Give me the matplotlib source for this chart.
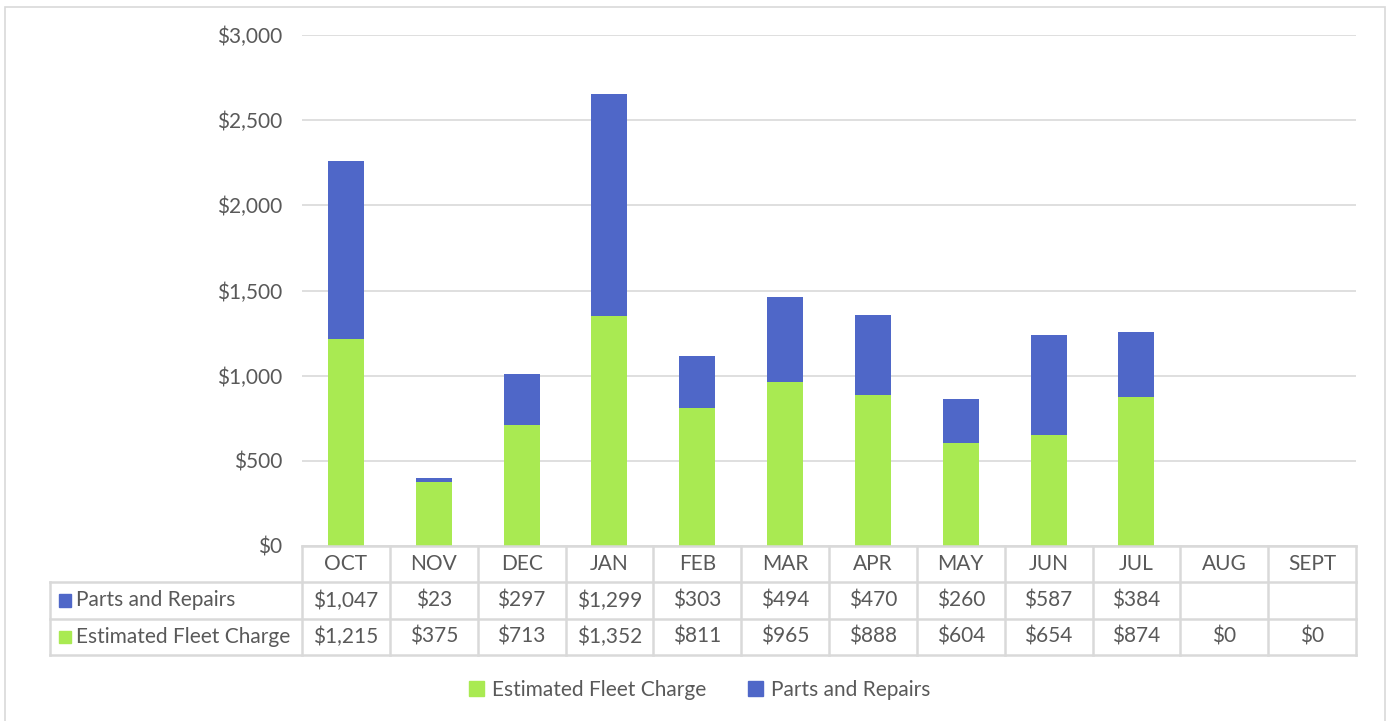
import matplotlib.pyplot as plt
import matplotlib.patches as mpatches
from matplotlib.ticker import FuncFormatter

months = ['OCT', 'NOV', 'DEC', 'JAN', 'FEB', 'MAR', 'APR', 'MAY', 'JUN', 'JUL', 'AUG', 'SEPT']
fleet_charge = [1215, 375, 713, 1352, 811, 965, 888, 604, 654, 874, 0, 0]
parts_repairs = [1047, 23, 297, 1299, 303, 494, 470, 260, 587, 384, None, None]

green = '#a9ea52'
blue = '#4f67c8'
grey_text = '#595959'
line_col = '#d9d9d9'

plt.rcParams['font.family'] = ['Lato', 'DejaVu Sans']

W, H = 1391, 721
fig = plt.figure(figsize=(W / 100, H / 100), dpi=100)

def px(x0, y0, x1, y1):
    # pixel box (top-left origin) -> figure fraction rect
    return [x0 / W, 1 - y1 / H, (x1 - x0) / W, (y1 - y0) / H]

# outer chart border
fig.patches.append(mpatches.Rectangle((5 / W, -0.01), 1380 / W, 1 - 7 / H + 0.01,
                                      transform=fig.transFigure, fill=False,
                                      edgecolor=line_col, linewidth=1.2))

plot_l, plot_r, plot_t, plot_b = 302, 1356, 35, 546
ax = fig.add_axes(px(plot_l, plot_t, plot_r, plot_b))
x = list(range(len(months)))
parts_vals = [v if v is not None else 0 for v in parts_repairs]
ax.bar(x, fleet_charge, width=0.41, color=green, zorder=3)
ax.bar(x, parts_vals, width=0.41, bottom=fleet_charge, color=blue, zorder=3)
ax.set_xlim(-0.5, len(months) - 0.5)
ax.set_ylim(0, 3000)
ax.set_yticks(range(0, 3001, 500))
ax.yaxis.set_major_formatter(FuncFormatter(lambda v, p: f'${v:,.0f}'))
fs = 15
ax.tick_params(axis='y', length=0, pad=14, labelsize=fs, labelcolor=grey_text)
ax.set_xticks([])
ax.grid(axis='y', color=line_col, linewidth=1.2, zorder=0)
for s in ax.spines.values():
    s.set_visible(False)

# data table below the plot
col_w = (plot_r - plot_l) / len(months)
tab_l, tab_t, tab_b = 50, 546, 655
lead = (plot_l - tab_l) / col_w
tax = fig.add_axes(px(tab_l, tab_t, plot_r, tab_b))
tax.set_xlim(-0.5 - lead, len(months) - 0.5)
tax.set_ylim(3, 0)
tax.axis('off')
lw = 1.8
# horizontal lines
tax.plot([-0.5, len(months) - 0.5], [0, 0], color=line_col, lw=lw, clip_on=False)
for r in (1, 2, 3):
    tax.plot([-0.5 - lead, len(months) - 0.5], [r, r], color=line_col, lw=lw, clip_on=False)
# vertical lines
for i in range(len(months) + 1):
    tax.plot([i - 0.5, i - 0.5], [0, 3], color=line_col, lw=lw, clip_on=False)
tax.plot([-0.5 - lead, -0.5 - lead], [1, 3], color=line_col, lw=lw, clip_on=False)

for i, m in enumerate(months):
    tax.text(i, 0.5, m, ha='center', va='center', fontsize=fs, color=grey_text)
    if parts_repairs[i] is not None:
        tax.text(i, 1.5, f'${parts_repairs[i]:,}', ha='center', va='center', fontsize=fs, color=grey_text)
    tax.text(i, 2.5, f'${fleet_charge[i]:,}', ha='center', va='center', fontsize=fs, color=grey_text)

row_labels = [('Parts and Repairs', blue), ('Estimated Fleet Charge', green)]
key_w = 12 / col_w
for r, (lab, c) in enumerate(row_labels):
    x0 = -0.5 - lead + 9 / col_w
    tax.add_patch(mpatches.Rectangle((x0, r + 1.5 - 0.17), key_w, 0.34, color=c, clip_on=False))
    tax.text(x0 + key_w + 5 / col_w, r + 1.5, lab, ha='left', va='center', fontsize=fs, color=grey_text)

# legend
handles = [mpatches.Patch(color=green, label='Estimated Fleet Charge'),
           mpatches.Patch(color=blue, label='Parts and Repairs')]
fig.legend(handles=handles, loc='center', bbox_to_anchor=(0.503, 1 - 690 / H), ncol=2,
           frameon=False, fontsize=fs, labelcolor=grey_text, handlelength=0.7,
           handleheight=0.7, handletextpad=0.4, columnspacing=2.0)

fig.savefig('out.png', dpi=100)
